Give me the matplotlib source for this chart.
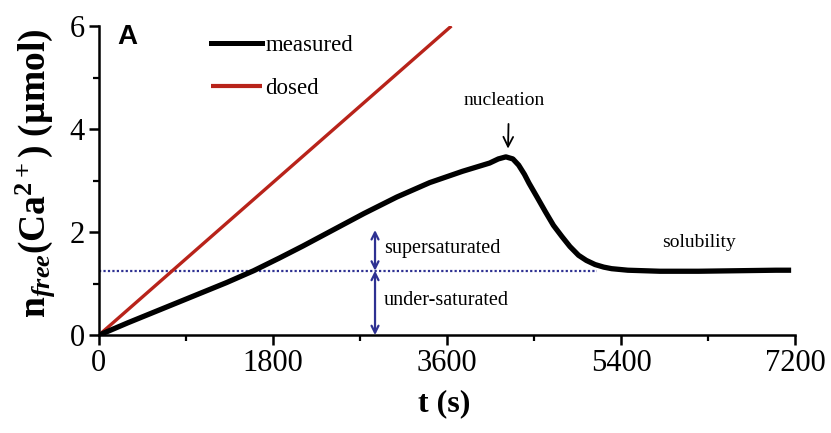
import matplotlib
matplotlib.use('Agg')
import matplotlib.pyplot as plt
from matplotlib.ticker import MultipleLocator

# measured free calcium
t_measured = [0, 300, 640, 980, 1320, 1600, 1870, 2110, 2400, 2740, 3080, 3420, 3760,
              4040, 4130, 4208, 4280, 4340, 4400, 4447, 4530, 4618, 4700, 4789, 4870,
              4959, 5040, 5130, 5220, 5301, 5469, 5800, 6200, 6600, 7000, 7130]
n_measured = [0, 0.24, 0.50, 0.76, 1.02, 1.25, 1.50, 1.73, 2.02, 2.36, 2.68, 2.96, 3.18,
              3.34, 3.42, 3.46, 3.42, 3.30, 3.12, 2.95, 2.68, 2.39, 2.13, 1.91, 1.72,
              1.55, 1.45, 1.37, 1.32, 1.29, 1.26, 1.24, 1.24, 1.25, 1.26, 1.26]

# dosed calcium (straight line)
t_dosed = [0, 3645]
n_dosed = [0, 6]

solubility = 1.25
t_sol_end = 5150
t_arrow = 2855
n_super_top = 2.04

x_ticks = [0, 1800, 3600, 5400, 7200]
y_ticks = [0, 2, 4, 6]

navy = '#2e3192'
red = '#b8231a'

plt.rcParams['mathtext.fontset'] = 'custom'
plt.rcParams['mathtext.rm'] = 'Liberation Serif:bold'
plt.rcParams['mathtext.it'] = 'Liberation Serif:bold:italic'
plt.rcParams['mathtext.bf'] = 'Liberation Serif:bold'

serif = 'Liberation Serif'

fig = plt.figure(figsize=(8.31, 4.33), dpi=100)
ax = fig.add_axes([0.119, 0.226, 0.838, 0.714])

ax.plot(t_dosed, n_dosed, color=red, lw=2.4, label='dosed', solid_capstyle='butt', zorder=3)
ax.plot(t_measured, n_measured, color='black', lw=3.8, label='measured', zorder=4,
        solid_joinstyle='round')
ax.plot([0, t_sol_end], [solubility, solubility], color=navy, lw=1.6, ls=(0, (1, 1)), zorder=2)

# double arrows for the super/under saturated regions
arrow_kw = dict(arrowstyle='<->,head_length=0.5,head_width=0.25', color=navy, lw=1.6,
                shrinkA=0, shrinkB=0)
ax.annotate('', xy=(t_arrow, n_super_top), xytext=(t_arrow, solubility), arrowprops=arrow_kw)
ax.annotate('', xy=(t_arrow, 0), xytext=(t_arrow, solubility), arrowprops=arrow_kw)

ax.text(2948, 1.69, 'supersaturated', family=serif, fontsize=14.5, va='center', ha='left')
ax.text(2948, 0.68, 'under-saturated', family=serif, fontsize=14.5, va='center', ha='left')
ax.text(6206, 1.79, 'solubility', family=serif, fontsize=14, va='center', ha='center')

ax.annotate('nucleation', xy=(4230, 3.62), xytext=(4188, 4.56), family=serif, fontsize=14,
            ha='center', va='center',
            arrowprops=dict(arrowstyle='->,head_length=0.5,head_width=0.25', color='black',
                            lw=1.3, shrinkA=9, shrinkB=0, relpos=(0.56, 0)))

ax.text(0.027, 1.005, 'A', transform=ax.transAxes, family='Liberation Sans',
        fontweight='bold', fontsize=20, va='top', ha='left')

handles, labels = ax.get_legend_handles_labels()
leg = ax.legend(handles[::-1], labels[::-1], loc='upper left', bbox_to_anchor=(0.155, 0.985),
                frameon=False, prop={'family': serif, 'size': 16.5}, handlelength=2.2,
                handletextpad=0.15, labelspacing=0.95, borderaxespad=0, borderpad=0.2)
leg.legend_handles[0].set_linewidth(3.6)
leg.legend_handles[1].set_linewidth(3.0)

ax.set_xlim(0, 7200)
ax.set_ylim(0, 6)
ax.set_xticks(x_ticks)
ax.set_yticks(y_ticks)
ax.xaxis.set_minor_locator(MultipleLocator(900))
ax.yaxis.set_minor_locator(MultipleLocator(1))
ax.spines['top'].set_visible(False)
ax.spines['right'].set_visible(False)
for s in ('left', 'bottom'):
    ax.spines[s].set_linewidth(1.8)
ax.tick_params(which='major', direction='out', length=7, width=1.8, pad=3)
ax.tick_params(which='minor', direction='out', length=4, width=1.6)
for lab in ax.get_xticklabels() + ax.get_yticklabels():
    lab.set_family(serif)
    lab.set_fontsize(22)

ax.set_xlabel('t (s)', family=serif, fontsize=23, fontweight='bold')
ax.xaxis.set_label_coords(0.496, -0.175)
fig.text(0.042, 0.60, r'$\mathrm{n}_{free}$(Ca$^{2+}$) (µmol)', family=serif, fontsize=27,
         fontweight='bold', rotation=90, ha='center', va='center')

fig.savefig('out.png', dpi=100)
